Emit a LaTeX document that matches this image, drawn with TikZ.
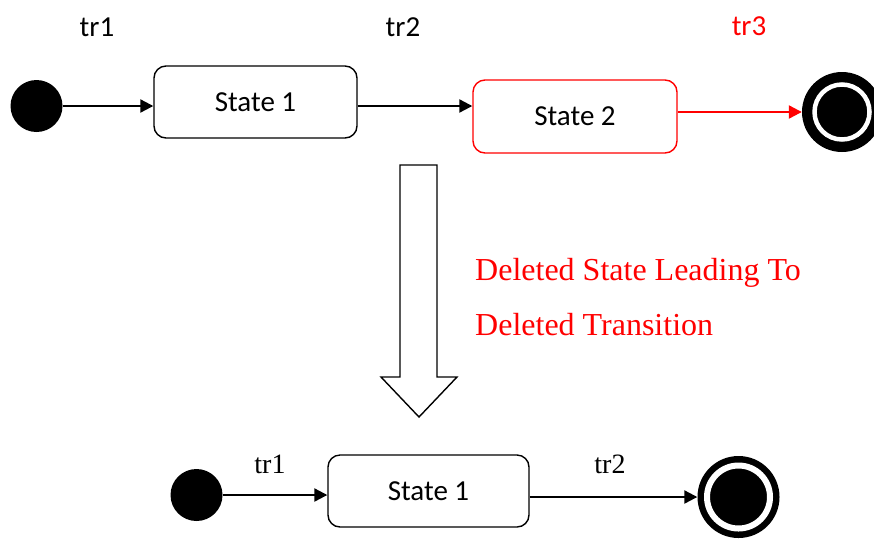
\documentclass[tikz,border=0pt]{standalone}
\usepackage{fontspec}
\setmainfont{Liberation Serif}
\newfontfamily\calfont{Carlito}
\usetikzlibrary{arrows.meta}

\tikzset{
  state/.style={draw, rounded corners=12pt, line width=1.4pt, minimum width=203pt, minimum height=72pt, inner sep=0pt, font=\calfont\fontsize{29}{30}\selectfont},
  initial/.style={circle, fill=black, minimum size=52pt, inner sep=0pt},
  finalst/.style={circle, fill=black, inner sep=0pt},
  trans/.style={line width=2.2pt, -{Triangle[length=13pt,width=13pt]}},
  lbl/.style={inner sep=0pt, font=\calfont\fontsize{29}{30}\selectfont},
  lblser/.style={inner sep=0pt, font=\fontsize{28}{30}\selectfont}
}

\begin{document}
\begin{tikzpicture}[x=1pt,y=-1pt]
  \useasboundingbox (0,0) rectangle (874,539);

  % top row
  \node[initial] (i1) at (36.5,106) {};
  \node[state] (s1) at (255.5,102) {State 1};
  \node[state, draw=red, minimum width=204pt, minimum height=73pt] (s2) at (575,116.5) {State 2};
  \node[finalst, minimum size=80pt] (f1) at (842,112) {};
  \draw[white, line width=4.5pt] (f1.center) circle (27.5pt);

  \draw[trans] (i1.east) -- (i1 -| s1.west);
  \draw[trans] (s1.east |- i1) -- (s2.west |- i1);
  \draw[trans, red] (s2.east |- f1) -- (f1.west);

  \node[lbl] (t1) at (97,27) {tr1};
  \node[lbl] (t2) at (403,27) {tr2};
  \node[lbl, text=red] (t3) at (749,26) {tr3};

  % hollow arrow
  \draw[line width=1.4pt, line join=miter] (400,165) -- (437,165) -- (437,377) -- (457,377) -- (419,417) -- (381,377) -- (400,377) -- cycle;

  \node[inner sep=0pt, anchor=west, align=left, text=red, font=\fontsize{32}{55}\selectfont] (note) at (475,297.5) {Deleted State Leading To\\Deleted Transition};

  % bottom row
  \node[initial] (i2) at (196.5,495) {};
  \node[state, minimum width=201pt] (s3) at (428.5,491) {State 1};
  \node[finalst, minimum size=82pt] (f2) at (738.5,497) {};
  \draw[white, line width=6pt] (f2.center) circle (31.5pt);

  \draw[trans] (i2.east) -- (i2 -| s3.west);
  \draw[trans] (s3.east |- f2) -- (f2.west);

  \node[lblser] (b1) at (270,464) {tr1};
  \node[lblser] (b2) at (610,464) {tr2};
\end{tikzpicture}
\end{document}
